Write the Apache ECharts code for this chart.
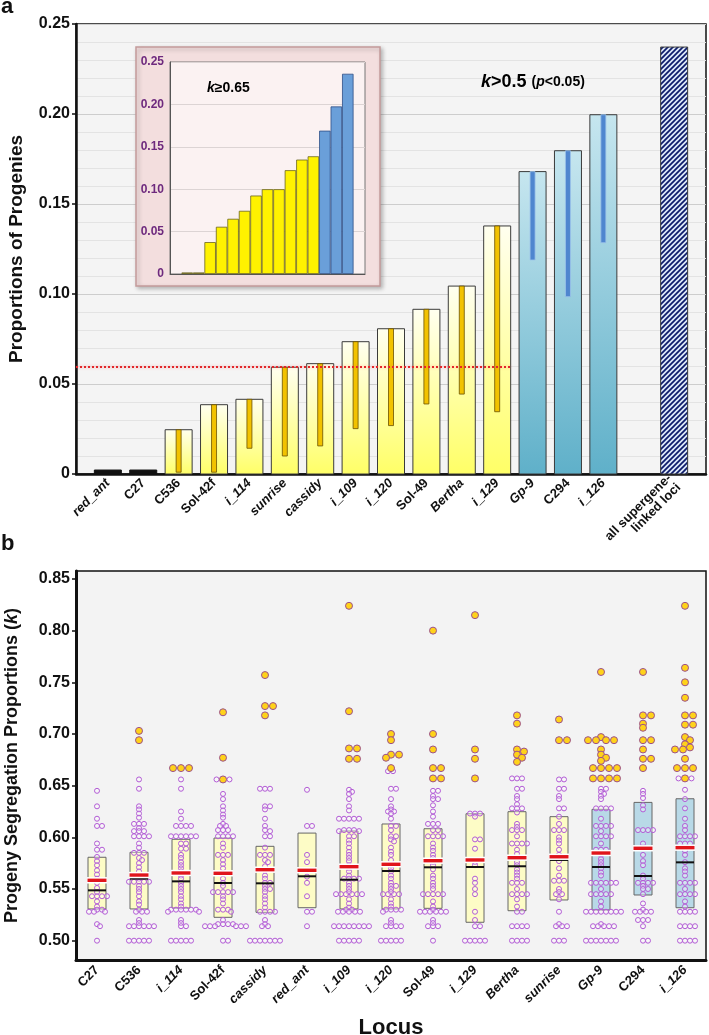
<!DOCTYPE html>
<html>
<head>
<meta charset="utf-8">
<script src="https://cdn.jsdelivr.net/npm/echarts@6/dist/echarts.min.js"></script>
<style>
html,body{margin:0;padding:0;background:#fff;}
#chart{width:709px;height:1035px;}
</style>
</head>
<body>
<div id="chart"></div>
<script>
// ---- panel a: proportion of progenies per locus
var lociA = ['red_ant','C27','C536','Sol-42f','i_114','sunrise','cassidy','i_109','i_120','Sol-49','Bertha','i_129','Gp-9','C294','i_126','','all supergene-\nlinked loci'];
var propA = [0.0022,0.0022,0.0246,0.0385,0.0415,0.0593,0.0613,0.0735,0.0807,0.0915,0.1044,0.1378,0.1680,0.1796,0.1996,null,0.2372];
var lowA  = [null,null,0.001,0.001,0.0143,0.010,0.0156,0.0252,0.0269,0.0389,0.0444,0.0346,0.1189,0.0985,0.1285,null,null];
var kindA = ['k','k','y','y','y','y','y','y','y','y','y','y','b','b','b','','h'];
var cutoffA = 0.0594;   // red dotted line
var cutoffEnd = 11.4;   // line stops after i_129

// inset: k >= 0.65
var insetVals = [null,0.0018,0.0018,0.0376,0.0557,0.0651,0.0745,0.0925,0.100,0.100,0.1224,0.1349,0.1388,0.1690,0.1976,0.2361,null];
var insetKind = ['','o','o','y','y','y','y','y','y','y','y','y','y','b','b','b',''];

// ---- panel b: progeny segregation proportions (k)
var lociB = ['C27','C536','i_114','Sol-42f','cassidy','red_ant','i_109','i_120','Sol-49','i_129','Bertha','sunrise','Gp-9','C294','i_126'];
var boxHi  = [0.5807,0.5855,0.5981,0.5993,0.5913,0.6041,0.6061,0.6129,0.6083,0.6228,0.6248,0.6200,0.6271,0.6338,0.6373];
var boxLo  = [0.5307,0.5307,0.5315,0.5226,0.5274,0.5319,0.5307,0.5307,0.5313,0.5178,0.5290,0.5394,0.5297,0.5442,0.5319];
var meanK  = [0.5584,0.5635,0.5655,0.5652,0.5687,0.5681,0.5716,0.5739,0.5774,0.5781,0.5803,0.5812,0.5848,0.5894,0.5900];
var medianK= [0.5487,0.5600,0.5574,0.5558,0.5555,0.5623,0.5590,0.5674,0.5710,0.5713,0.5720,0.5781,0.5713,0.5626,0.5758];

var yellowK = [
  [],
  [0.703,0.694],
  [0.667,0.667,0.667],
  [0.721,0.677,0.656],
  [0.757,0.727,0.727,0.718],
  [],
  [0.824,0.722,0.686,0.686,0.676,0.676],
  [0.700,0.694,0.680,0.680,0.677,0.667],
  [0.800,0.700,0.685,0.667,0.667,0.657,0.657],
  [0.815,0.685,0.676,0.657],
  [0.718,0.710,0.685,0.683,0.680,0.677,0.673],
  [0.714,0.694,0.694],
  [0.760,0.697,0.694,0.694,0.694,0.694,0.685,0.680,0.677,0.674,0.667,0.667,0.667,0.667,0.657,0.657,0.657,0.657],
  [0.760,0.718,0.718,0.710,0.706,0.694,0.694,0.685,0.676,0.676,0.667],
  [0.824,0.764,0.750,0.735,0.718,0.718,0.709,0.709,0.697,0.694,0.690,0.687,0.685,0.685,0.676,0.667,0.667,0.667,0.657]
];
var purpleK = [
  [0.645,0.630,0.618,0.611,0.611,0.594,0.588,0.588,0.581,0.577,0.573,0.568,0.564,0.560,0.556,0.551,0.547,0.543,0.543,0.543,0.543,0.538,0.533,0.530,0.530,0.528,0.528,0.528,0.516,0.514,0.500],
  [0.656,0.647,0.630,0.627,0.623,0.619,0.613,0.613,0.613,0.609,0.606,0.606,0.606,0.601,0.601,0.601,0.601,0.594,0.590,0.585,0.585,0.585,0.580,0.578,0.575,0.571,0.567,0.563,0.560,0.557,0.557,0.557,0.557,0.557,0.553,0.550,0.547,0.543,0.538,0.535,0.530,0.528,0.528,0.528,0.520,0.517,0.514,0.514,0.514,0.514,0.514,0.514,0.500,0.500,0.500,0.500,0.500],
  [0.656,0.647,0.625,0.618,0.611,0.611,0.611,0.611,0.601,0.601,0.601,0.601,0.601,0.601,0.594,0.594,0.589,0.589,0.583,0.580,0.576,0.573,0.570,0.567,0.563,0.560,0.556,0.553,0.550,0.547,0.543,0.540,0.536,0.533,0.530,0.530,0.530,0.530,0.530,0.530,0.528,0.528,0.520,0.517,0.514,0.514,0.500,0.500,0.500,0.500,0.500],
  [0.656,0.656,0.642,0.637,0.630,0.626,0.622,0.619,0.613,0.611,0.611,0.607,0.607,0.607,0.601,0.601,0.601,0.601,0.594,0.590,0.583,0.583,0.583,0.578,0.574,0.570,0.565,0.560,0.556,0.553,0.547,0.547,0.547,0.547,0.547,0.543,0.540,0.536,0.530,0.530,0.530,0.528,0.520,0.516,0.516,0.516,0.516,0.514,0.514,0.514,0.514,0.514,0.514,0.500,0.500],
  [0.647,0.647,0.647,0.630,0.630,0.627,0.618,0.611,0.607,0.606,0.601,0.601,0.590,0.583,0.583,0.583,0.578,0.576,0.572,0.568,0.563,0.560,0.556,0.556,0.553,0.550,0.550,0.547,0.543,0.540,0.536,0.532,0.528,0.528,0.528,0.528,0.520,0.516,0.514,0.514,0.500,0.500,0.500,0.500,0.500,0.500,0.500],
  [0.646,0.611,0.611,0.583,0.576,0.562,0.556,0.543,0.528,0.528,0.514],
  [0.646,0.644,0.642,0.637,0.630,0.626,0.618,0.618,0.618,0.618,0.618,0.607,0.607,0.607,0.606,0.606,0.601,0.601,0.597,0.594,0.590,0.586,0.583,0.580,0.577,0.573,0.570,0.567,0.563,0.560,0.560,0.560,0.560,0.556,0.553,0.550,0.547,0.545,0.545,0.545,0.545,0.545,0.545,0.540,0.536,0.532,0.530,0.530,0.528,0.528,0.528,0.528,0.528,0.514,0.514,0.514,0.514,0.514,0.514,0.514,0.514,0.500,0.500,0.500,0.500,0.500],
  [0.664,0.664,0.647,0.647,0.637,0.630,0.627,0.625,0.625,0.623,0.618,0.611,0.611,0.607,0.601,0.601,0.598,0.596,0.590,0.586,0.583,0.578,0.573,0.570,0.567,0.563,0.560,0.556,0.553,0.553,0.550,0.547,0.545,0.545,0.545,0.545,0.540,0.536,0.533,0.530,0.530,0.530,0.530,0.528,0.520,0.517,0.514,0.514,0.514,0.514,0.500,0.500,0.500,0.500,0.500],
  [0.645,0.645,0.640,0.637,0.637,0.631,0.625,0.620,0.613,0.613,0.613,0.607,0.607,0.601,0.601,0.601,0.601,0.594,0.590,0.587,0.583,0.580,0.576,0.573,0.569,0.563,0.560,0.556,0.553,0.550,0.545,0.545,0.545,0.545,0.545,0.538,0.533,0.530,0.528,0.528,0.528,0.528,0.528,0.528,0.520,0.517,0.514,0.514,0.514,0.500],
  [0.623,0.623,0.623,0.620,0.598,0.598,0.589,0.576,0.573,0.560,0.556,0.550,0.545,0.528,0.520,0.514,0.514,0.500,0.500,0.500,0.500,0.500],
  [0.657,0.657,0.657,0.647,0.647,0.640,0.637,0.632,0.628,0.628,0.628,0.624,0.613,0.610,0.607,0.607,0.607,0.601,0.594,0.594,0.594,0.594,0.588,0.584,0.580,0.576,0.573,0.569,0.566,0.563,0.560,0.556,0.556,0.556,0.550,0.545,0.545,0.545,0.545,0.540,0.533,0.528,0.528,0.514,0.514,0.514,0.514,0.500,0.500,0.500,0.500],
  [0.656,0.656,0.647,0.647,0.640,0.637,0.628,0.628,0.620,0.613,0.607,0.607,0.607,0.600,0.597,0.594,0.588,0.583,0.577,0.570,0.563,0.558,0.558,0.558,0.550,0.547,0.545,0.545,0.540,0.528,0.516,0.514,0.514,0.514,0.500,0.500,0.500],
  [0.647,0.647,0.644,0.642,0.640,0.637,0.628,0.628,0.628,0.628,0.618,0.611,0.611,0.611,0.611,0.606,0.601,0.601,0.601,0.601,0.594,0.588,0.588,0.588,0.583,0.579,0.576,0.573,0.570,0.566,0.563,0.556,0.556,0.556,0.556,0.556,0.556,0.550,0.545,0.545,0.545,0.545,0.545,0.538,0.533,0.528,0.528,0.528,0.528,0.528,0.528,0.528,0.528,0.516,0.514,0.514,0.514,0.514,0.514,0.500,0.500,0.500,0.500,0.500,0.500,0.500],
  [0.645,0.642,0.638,0.631,0.627,0.607,0.607,0.607,0.607,0.594,0.590,0.583,0.577,0.573,0.563,0.560,0.556,0.556,0.556,0.556,0.553,0.550,0.550,0.545,0.536,0.530,0.528,0.528,0.528,0.528,0.520,0.520,0.520,0.514,0.500,0.500],
  [0.657,0.657,0.646,0.637,0.628,0.618,0.611,0.607,0.601,0.601,0.601,0.601,0.594,0.594,0.594,0.587,0.583,0.576,0.570,0.567,0.563,0.556,0.556,0.556,0.556,0.550,0.545,0.545,0.545,0.545,0.538,0.533,0.528,0.528,0.528,0.528,0.514,0.514,0.514,0.514,0.500,0.500,0.500,0.500]
];

var FONT = 'Liberation Sans, Arial, sans-serif';
var myChart = echarts.init(document.getElementById('chart'));

// hatch for the pooled bar
var hatch = document.createElement('canvas');
hatch.width = 5; hatch.height = 5;
var hc = hatch.getContext('2d');
hc.fillStyle = '#dde8f8'; hc.fillRect(0, 0, 5, 5);
hc.strokeStyle = '#0c1a6a'; hc.lineWidth = 1.7;
hc.beginPath();
hc.moveTo(-1, 6); hc.lineTo(6, -1);
hc.moveTo(-1, 1); hc.lineTo(1, -1);
hc.moveTo(4, 6); hc.lineTo(6, 4);
hc.stroke();

function grad(c1, c2) {
	return new echarts.graphic.LinearGradient(0, 0, 0, 1, [{offset: 0, color: c1}, {offset: 1, color: c2}]);
}

function renderBarA(params, api) {
	var i = api.value(0), v = api.value(1), lo = api.value(2);
	var kind = kindA[i];
	var top = api.coord([i, v]), base = api.coord([i, 0]);
	var w = 27, fill, stroke = '#3a3a3a';
	if (kind == 'k') { fill = '#111'; stroke = '#111'; }
	else if (kind == 'y') fill = grad('#fffff0', '#ffff66');
	else if (kind == 'b') fill = grad('#c6e6ef', '#5fb0c9');
	else fill = {image: hatch, repeat: 'repeat'};
	var kids = [{
		type: 'rect',
		shape: {x: top[0] - w / 2, y: top[1], width: w, height: base[1] - top[1]},
		style: {fill: fill, stroke: stroke, lineWidth: 1}
	}];
	if (!isNaN(lo)) {
		var l = api.coord([i, lo]);
		kids.push({
			type: 'rect',
			shape: {x: top[0] - 2.5, y: top[1], width: 5, height: l[1] - top[1]},
			style: kind == 'b'
				? {fill: '#4f86cf', stroke: '#9cc3ea', lineWidth: 0.8}
				: {fill: '#f2c200', stroke: '#6b5200', lineWidth: 0.8}
		});
	}
	return {type: 'group', children: kids};
}

// beeswarm offsets (px) for the k points of one locus
var XPX = 42, YPX = 1033.5;
function swarm(pts) {
	var placed = [];
	pts.forEach(function(p) {
		var y = p.v * YPX;
		for (var s = 0; s < 200; s++) {
			var dx = Math.ceil(s / 2) * 0.5 * (s % 2 ? 1 : -1);
			var ok = true;
			for (var j = 0; j < placed.length; j++) {
				var q = placed[j], d = p.r + q.r, dy = (y - q.y) * 2;
				if ((dx - q.dx) * (dx - q.dx) + dy * dy < d * d) { ok = false; break; }
			}
			if (ok) { p.dx = dx; p.y = y; placed.push(p); break; }
		}
	});
}

var purpleData = [], yellowData = [];
lociB.forEach(function(name, i) {
	var pts = [];
	yellowK[i].forEach(function(v) { pts.push({v: v, r: 3.9, c: 'y'}); });
	purpleK[i].forEach(function(v) { pts.push({v: v, r: 2.5, c: 'p'}); });
	pts.sort(function(a, b) { return b.v - a.v; });
	swarm(pts);
	pts.forEach(function(p) {
		(p.c == 'y' ? yellowData : purpleData).push([i + p.dx / XPX, p.v]);
	});
});

function renderBox(params, api) {
	var i = api.value(0);
	var lo = api.coord([i, api.value(1)]), hi = api.coord([i, api.value(2)]);
	return {
		type: 'rect',
		shape: {x: hi[0] - 9, y: hi[1], width: 18, height: lo[1] - hi[1]},
		style: {fill: i >= 12 ? '#b8d9e7' : '#fdfcc6', stroke: '#666', lineWidth: 1}
	};
}
function renderMid(params, api) {
	var i = api.value(0);
	var m = api.coord([i, api.value(1)]), md = api.coord([i, api.value(2)]);
	return {type: 'group', children: [
		{type: 'rect', shape: {x: md[0] - 9, y: md[1] - 1, width: 18, height: 2}, style: {fill: '#111'}},
		{type: 'rect', shape: {x: m[0] - 10, y: m[1] - 3.2, width: 20, height: 6.4}, style: {fill: '#fff'}},
		{type: 'rect', shape: {x: m[0] - 9.5, y: m[1] - 1.7, width: 19, height: 3.4}, style: {fill: '#e0151b'}}
	]};
}

function locLabel(n) {
	var it = !/^(Sol|C\d|all)/.test(n);
	return n.split('\n').map(function(s) { return '{' + (it ? 'i' : 'n') + '|' + s + '}'; }).join('\n');
}
var labRich = {
	i: {fontFamily: FONT, fontWeight: 'bold', fontStyle: 'italic', fontSize: 13, color: '#111'},
	n: {fontFamily: FONT, fontWeight: 'bold', fontSize: 13, color: '#111'}
};

var barData = [], insetData = [];
propA.forEach(function(v, i) { if (v != null) barData.push([i, v, lowA[i] == null ? '-' : lowA[i]]); });
insetVals.forEach(function(v, i) {
	insetData.push(v == null ? '-' : {
		value: v,
		itemStyle: {color: insetKind[i] == 'b' ? '#6a9fd9' : (insetKind[i] == 'o' ? '#8f8a2a' : '#fff200'),
			borderColor: insetKind[i] == 'b' ? '#2f4f86' : '#6b6420', borderWidth: 0.8}
	});
});

var option = {
	animation: false,
	backgroundColor: '#fff',
	textStyle: {fontFamily: FONT},
	grid: [
		{left: 76, right: 3, top: 24, height: 450, show: true, backgroundColor: '#f4f4f4', borderColor: '#111', borderWidth: 1.5, outerBoundsMode: 'none'},
		{left: 170, top: 62, width: 195, height: 212, outerBoundsMode: 'none'},
		{left: 76, right: 3, top: 571, height: 389, show: true, backgroundColor: '#f3f3f3', borderColor: '#111', borderWidth: 1.5, outerBoundsMode: 'none'}
	],
	xAxis: [
		{gridIndex: 0, type: 'value', min: -0.9, max: 16.9, splitLine: {show: false},
			axisLine: {onZero: false, lineStyle: {color: '#111', width: 2.5}}, axisTick: {show: false},
			axisLabel: {customValues: [0,1,2,3,4,5,6,7,8,9,10,11,12,13,14,16], rotate: 45, margin: 7,
				formatter: function(v) { return locLabel(lociA[Math.round(v)]); }, rich: labRich}},
		{gridIndex: 1, type: 'category', data: insetVals.map(function(v, i) { return i; }), z: 5,
			axisLine: {onZero: false, lineStyle: {color: '#555', width: 1}}, axisTick: {show: false}, axisLabel: {show: false}},
		{gridIndex: 2, type: 'category', data: lociB,
			axisLine: {onZero: false, lineStyle: {color: '#111', width: 3}}, axisTick: {show: false},
			axisLabel: {interval: 0, rotate: 45, margin: 8, formatter: locLabel, rich: labRich},
			name: 'Locus', nameLocation: 'middle', nameGap: 57,
			nameTextStyle: {fontFamily: FONT, fontWeight: 'bold', fontSize: 22, color: '#111'}},
		{gridIndex: 2, type: 'value', min: -0.5, max: 14.5, show: false}
	],
	yAxis: [
		{gridIndex: 0, type: 'value', min: 0, max: 0.25, interval: 0.05,
			axisLine: {show: true, onZero: false, lineStyle: {color: '#111', width: 2.5}},
			axisTick: {show: true, length: 4, lineStyle: {color: '#111', width: 1.5}},
			minorTick: {show: false, splitNumber: 5},
			splitLine: {lineStyle: {color: '#cdcdcd', width: 1}},
			minorSplitLine: {show: true, lineStyle: {color: '#e3e3e3', width: 1}},
			axisLabel: {fontFamily: FONT, fontWeight: 'bold', fontSize: 16, color: '#111', margin: 6,
				formatter: function(v) { return v == 0 ? '0' : v.toFixed(2); }},
			name: 'Proportions of Progenies', nameLocation: 'middle', nameGap: 50,
			nameTextStyle: {fontFamily: FONT, fontWeight: 'bold', fontSize: 19, color: '#111'}},
		{gridIndex: 1, type: 'value', min: 0, max: 0.25, interval: 0.05, z: 5,
			axisLine: {show: true, onZero: false, lineStyle: {color: '#555', width: 1}}, axisTick: {show: false},
			splitLine: {lineStyle: {color: '#dcd4d4', width: 1}},
			axisLabel: {fontFamily: FONT, fontWeight: 'bold', fontSize: 12, color: '#6e2a7e', margin: 6,
				formatter: function(v) { return v == 0 ? '0' : v.toFixed(2); }}},
		{gridIndex: 2, type: 'value', min: 0.4813, max: 0.8577,
			axisLine: {show: true, onZero: false, lineStyle: {color: '#111', width: 3}},
			axisTick: {show: true, length: 4, customValues: [0.5,0.55,0.6,0.65,0.7,0.75,0.8,0.85], lineStyle: {color: '#111', width: 1.5}},
			splitLine: {show: false},
			axisLabel: {customValues: [0.5,0.55,0.6,0.65,0.7,0.75,0.8,0.85], fontFamily: FONT, fontWeight: 'bold', fontSize: 16, color: '#111', margin: 6,
				formatter: function(v) { return v.toFixed(2); }},
			name: 'Progeny Segregation Proportions ({k|k})', nameLocation: 'middle', nameGap: 55,
			nameTextStyle: {fontFamily: FONT, fontWeight: 'bold', fontSize: 18, color: '#111',
				rich: {k: {fontFamily: FONT, fontWeight: 'bold', fontStyle: 'italic', fontSize: 18, color: '#111'}}}}
	],
	graphic: [
		{type: 'rect', z: 1, shape: {x: 136, y: 47, width: 244, height: 239},
			style: {fill: '#f3dede', stroke: '#c39b9b', lineWidth: 1.5, shadowBlur: 4, shadowOffsetX: 2, shadowOffsetY: 2, shadowColor: 'rgba(0,0,0,0.25)'}},
		{type: 'rect', z: 2, shape: {x: 170, y: 62, width: 195, height: 212},
			style: {fill: '#fbf2f2', stroke: '#777', lineWidth: 1}},
		{type: 'text', z: 10, left: 207, top: 81, style: {text: '{i|k}{n|≥0.65}', rich: {
			i: {fontFamily: FONT, fontWeight: 'bold', fontStyle: 'italic', fontSize: 14, color: '#111'},
			n: {fontFamily: FONT, fontWeight: 'bold', fontSize: 14, color: '#111'}}}},
		{type: 'text', z: 10, left: 481, top: 73, style: {text: '{i|k}{n|>0.5 }{s|(}{si|p}{s|<0.05)}', rich: {
			i: {fontFamily: FONT, fontWeight: 'bold', fontStyle: 'italic', fontSize: 18, color: '#111'},
			n: {fontFamily: FONT, fontWeight: 'bold', fontSize: 18, color: '#111'},
			si: {fontFamily: FONT, fontWeight: 'bold', fontStyle: 'italic', fontSize: 14, color: '#111'},
			s: {fontFamily: FONT, fontWeight: 'bold', fontSize: 14, color: '#111'}}}},
		{type: 'text', left: 1, top: -4, style: {text: 'a', fontFamily: FONT, fontWeight: 'bold', fontSize: 22, fill: '#111'}},
		{type: 'text', left: 1, top: 533, style: {text: 'b', fontFamily: FONT, fontWeight: 'bold', fontSize: 22, fill: '#111'}}
	],
	series: [
		{type: 'custom', xAxisIndex: 0, yAxisIndex: 0, z: 3, renderItem: renderBarA, data: barData, clip: false},
		{type: 'line', xAxisIndex: 0, yAxisIndex: 0, z: 4, symbol: 'none',
			lineStyle: {color: '#e2262a', width: 2, type: [2, 2], shadowBlur: 3, shadowColor: 'rgba(255,90,90,0.5)'},
			data: [[-0.9, cutoffA], [cutoffEnd, cutoffA]]},
		{type: 'bar', xAxisIndex: 1, yAxisIndex: 1, z: 6, barCategoryGap: '0%', data: insetData},
		{type: 'custom', xAxisIndex: 2, yAxisIndex: 2, z: 2, renderItem: renderBox,
			data: lociB.map(function(n, i) { return [i, boxLo[i], boxHi[i]]; })},
		{type: 'scatter', xAxisIndex: 3, yAxisIndex: 2, z: 3, symbolSize: 5, data: purpleData,
			itemStyle: {color: 'rgba(255,255,255,0.35)', borderColor: '#b35cd6', borderWidth: 1, opacity: 1}},
		{type: 'scatter', xAxisIndex: 3, yAxisIndex: 2, z: 3, symbolSize: 7, data: yellowData,
			itemStyle: {color: '#ffd21a', borderColor: '#9b4f8c', borderWidth: 1, opacity: 1}},
		{type: 'custom', xAxisIndex: 2, yAxisIndex: 2, z: 4, renderItem: renderMid,
			data: lociB.map(function(n, i) { return [i, meanK[i], medianK[i]]; })}
	]
};
myChart.setOption(option);
</script>
</body>
</html>
